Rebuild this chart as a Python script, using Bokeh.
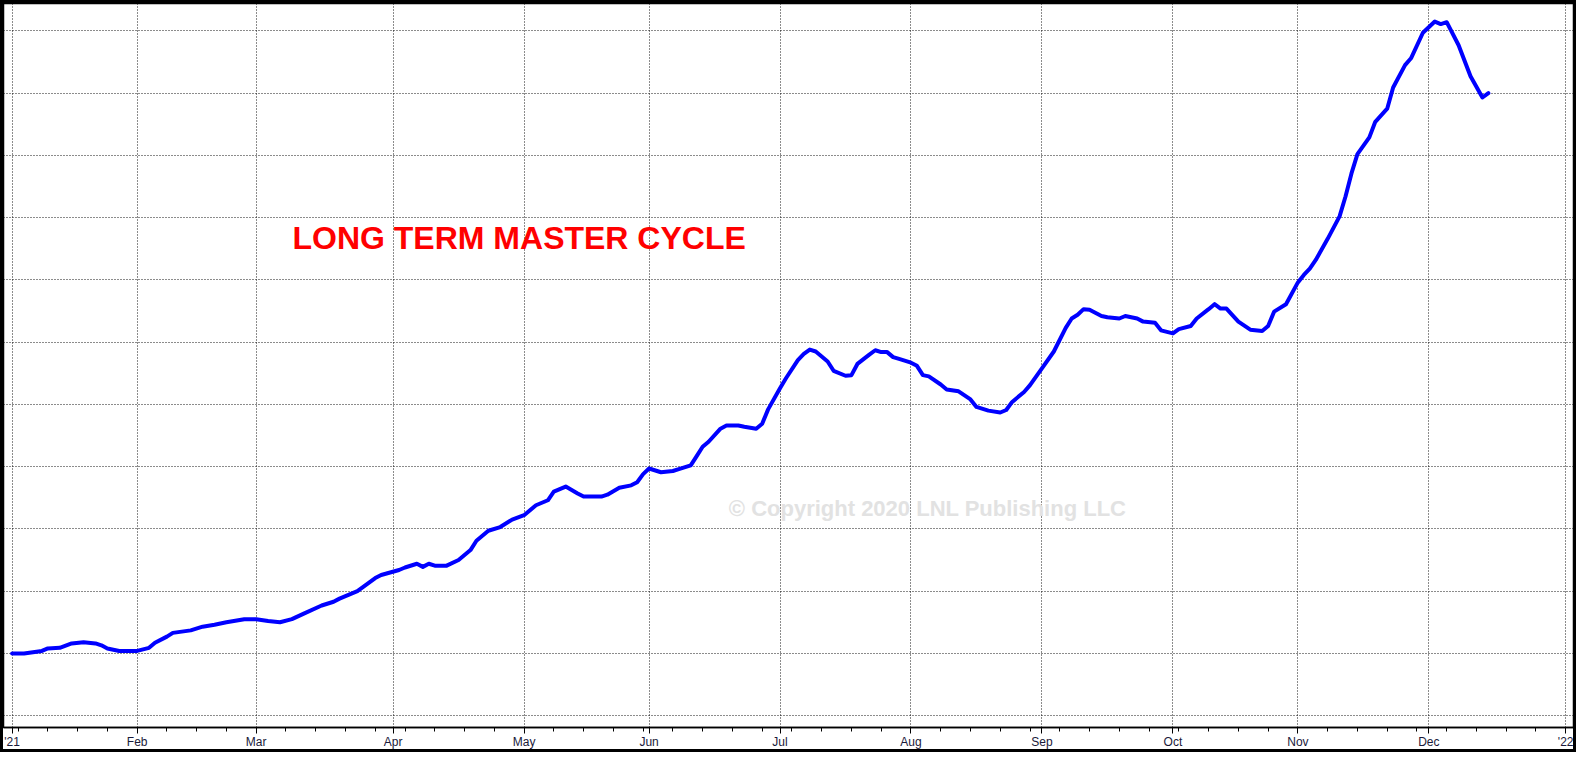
import numpy as np
from bokeh.plotting import figure
from bokeh.models import FixedTicker, Label, Range1d
from bokeh.embed import file_html
from bokeh.resources import INLINE

# ---- data ----
dates = [
    "2021-01-01", "2021-01-05", "2021-01-08", "2021-01-11", "2021-01-13", "2021-01-15",
    "2021-01-19", "2021-01-21", "2021-01-22", "2021-01-25", "2021-01-27", "2021-02-01",
    "2021-02-03", "2021-02-04", "2021-02-08", "2021-02-09", "2021-02-12", "2021-02-16",
    "2021-02-18", "2021-02-22", "2021-02-25", "2021-03-01", "2021-03-03", "2021-03-05",
    "2021-03-09", "2021-03-11", "2021-03-16", "2021-03-18", "2021-03-19", "2021-03-24",
    "2021-03-29", "2021-03-30", "2021-04-02", "2021-04-05", "2021-04-07", "2021-04-08",
    "2021-04-09", "2021-04-12", "2021-04-14", "2021-04-16", "2021-04-20", "2021-04-21",
    "2021-04-23", "2021-04-27", "2021-04-29", "2021-05-03", "2021-05-05", "2021-05-07",
    "2021-05-10", "2021-05-12", "2021-05-14", "2021-05-17", "2021-05-20", "2021-05-21",
    "2021-05-25", "2021-05-27", "2021-05-28", "2021-05-31", "2021-06-01", "2021-06-03",
    "2021-06-07", "2021-06-08", "2021-06-10", "2021-06-11", "2021-06-14", "2021-06-15",
    "2021-06-17", "2021-06-18", "2021-06-22", "2021-06-23", "2021-06-25", "2021-06-28",
    "2021-06-29", "2021-07-01", "2021-07-02", "2021-07-06", "2021-07-07", "2021-07-08",
    "2021-07-09", "2021-07-13", "2021-07-14", "2021-07-16", "2021-07-19", "2021-07-20",
    "2021-07-22", "2021-07-23", "2021-07-26", "2021-07-27", "2021-07-28", "2021-07-29",
    "2021-08-02", "2021-08-03", "2021-08-04", "2021-08-05", "2021-08-09", "2021-08-10",
    "2021-08-12", "2021-08-16", "2021-08-17", "2021-08-19", "2021-08-23", "2021-08-24",
    "2021-08-25", "2021-08-27", "2021-08-30", "2021-09-01", "2021-09-03", "2021-09-07",
    "2021-09-08", "2021-09-09", "2021-09-10", "2021-09-13", "2021-09-15", "2021-09-16",
    "2021-09-20", "2021-09-21", "2021-09-23", "2021-09-24", "2021-09-28", "2021-09-29",
    "2021-10-01", "2021-10-04", "2021-10-06", "2021-10-07", "2021-10-11", "2021-10-12",
    "2021-10-13", "2021-10-14", "2021-10-18", "2021-10-20", "2021-10-22", "2021-10-25",
    "2021-10-26", "2021-10-28", "2021-11-01", "2021-11-02", "2021-11-03", "2021-11-04",
    "2021-11-08", "2021-11-10", "2021-11-11", "2021-11-12", "2021-11-15", "2021-11-17",
    "2021-11-18", "2021-11-22", "2021-11-23", "2021-11-25", "2021-11-26", "2021-11-30",
    "2021-12-02", "2021-12-03", "2021-12-06", "2021-12-08", "2021-12-10", "2021-12-14",
    "2021-12-15",
]
values = [
    1.00, 1.00, 1.04, 1.08, 1.09, 1.16,
    1.18, 1.16, 1.13, 1.08, 1.04, 1.04,
    1.09, 1.17, 1.27, 1.33, 1.37, 1.43,
    1.46, 1.50, 1.55, 1.55, 1.52, 1.50,
    1.55, 1.64, 1.77, 1.83, 1.88, 2.00,
    2.21, 2.26, 2.34, 2.38, 2.44, 2.39,
    2.44, 2.41, 2.41, 2.50, 2.66, 2.81,
    2.97, 3.03, 3.15, 3.22, 3.38, 3.46,
    3.60, 3.68, 3.57, 3.52, 3.52, 3.55,
    3.66, 3.70, 3.75, 3.88, 3.97, 3.91,
    3.93, 3.96, 4.02, 4.17, 4.32, 4.40,
    4.61, 4.66, 4.66, 4.64, 4.61, 4.69,
    4.92, 5.26, 5.42, 5.71, 5.81, 5.88,
    5.85, 5.69, 5.54, 5.46, 5.47, 5.65,
    5.80, 5.87, 5.84, 5.84, 5.76, 5.73,
    5.67, 5.62, 5.47, 5.45, 5.32, 5.24,
    5.21, 5.08, 4.96, 4.90, 4.87, 4.91,
    5.04, 5.20, 5.31, 5.58, 5.85, 6.23,
    6.38, 6.44, 6.53, 6.52, 6.42, 6.40,
    6.38, 6.42, 6.38, 6.33, 6.31, 6.19,
    6.14, 6.21, 6.26, 6.38, 6.53, 6.61,
    6.54, 6.54, 6.33, 6.20, 6.18, 6.26,
    6.49, 6.61, 6.96, 7.08, 7.18, 7.32,
    7.66, 8.02, 8.34, 8.71, 9.02, 9.29,
    9.54, 9.75, 10.09, 10.45, 10.56, 10.97,
    11.15, 11.11, 11.14, 10.77, 10.27, 9.93,
    10.00,
]
month_starts = [
    "2021-01-01", "2021-02-01", "2021-03-01", "2021-04-01", "2021-05-01", "2021-06-01",
    "2021-07-01", "2021-08-01", "2021-09-01", "2021-10-01", "2021-11-01", "2021-12-01",
    "2022-01-01",
]
month_labels = ["'21", "Feb", "Mar", "Apr", "May", "Jun", "Jul", "Aug", "Sep", "Oct", "Nov", "Dec", "'22"]
y_grid_levels = [0, 1, 2, 3, 4, 5, 6, 7, 8, 9, 10, 11]
title_text = "LONG TERM MASTER CYCLE"
copyright_text = "\u00a9 Copyright 2020 LNL Publishing LLC"

# ---- weekday (trading-day) scale ----
origin = np.datetime64("2021-01-01")
x = np.busday_count(origin, np.array(dates, dtype="datetime64[D]"))
first_bd = np.busday_offset(np.array(month_starts, dtype="datetime64[D]"), 0, roll="forward")
tick_pos = [int(t) for t in np.busday_count(origin, first_bd)]
mondays = np.arange(np.datetime64("2021-01-04"), np.datetime64("2022-01-04"), np.timedelta64(7, "D"))
minor_pos = [int(t) for t in np.busday_count(origin, mondays)]

# the 3px CSS border clips the outer 6px of the canvas at right and bottom
p = figure(
    width=1576, height=752,
    x_range=Range1d(-1.45, 262.3), y_range=Range1d(-0.19, 11.44),
    output_backend="svg", toolbar_location=None, y_axis_location=None,
    min_border_left=0, min_border_right=6, min_border_top=0, min_border_bottom=28,
    background_fill_color="white", border_fill_color="white",
)
p.styles = {"border": "3px solid black"}
p.outline_line_color = "black"
p.outline_line_width = 1.5

ticker = FixedTicker(ticks=tick_pos, minor_ticks=minor_pos)
p.xaxis.ticker = ticker
p.xaxis.major_label_overrides = {t: lab for t, lab in zip(tick_pos, month_labels)}
p.xaxis.axis_line_color = "black"
p.xaxis.axis_line_width = 1.5
p.xaxis.major_tick_line_color = "black"
p.xaxis.minor_tick_line_color = "black"
p.xaxis.major_tick_in = 0
p.xaxis.major_tick_out = 6
p.xaxis.minor_tick_in = 0
p.xaxis.minor_tick_out = 4
p.xaxis.major_label_standoff = 1
p.xaxis.major_label_text_font = "Liberation Sans"
p.xaxis.major_label_text_font_size = "12px"
p.xaxis.major_label_text_color = "#1a1a3a"

p.xgrid.ticker = FixedTicker(ticks=tick_pos)
p.ygrid.ticker = FixedTicker(ticks=y_grid_levels)
for g in (p.xgrid, p.ygrid):
    g.grid_line_color = "black"
    g.grid_line_dash = "1 2"
    g.grid_line_width = 1
    g.grid_line_alpha = 0.9

p.add_layout(Label(x=120.4, y=3.33, text=copyright_text, text_color="#e2e2e2",
                   text_font="Liberation Sans", text_font_style="bold",
                   text_font_size="22px", text_baseline="alphabetic"))

p.line(x, values, line_color="#0000ff", line_width=4, line_join="round", line_cap="round")

p.add_layout(Label(x=47.1, y=7.68, text=title_text, text_color="#ff0000",
                   text_font="Liberation Sans", text_font_style="bold",
                   text_font_size="32px", text_baseline="alphabetic"))

open("out.html", "w").write(file_html(p, INLINE))
